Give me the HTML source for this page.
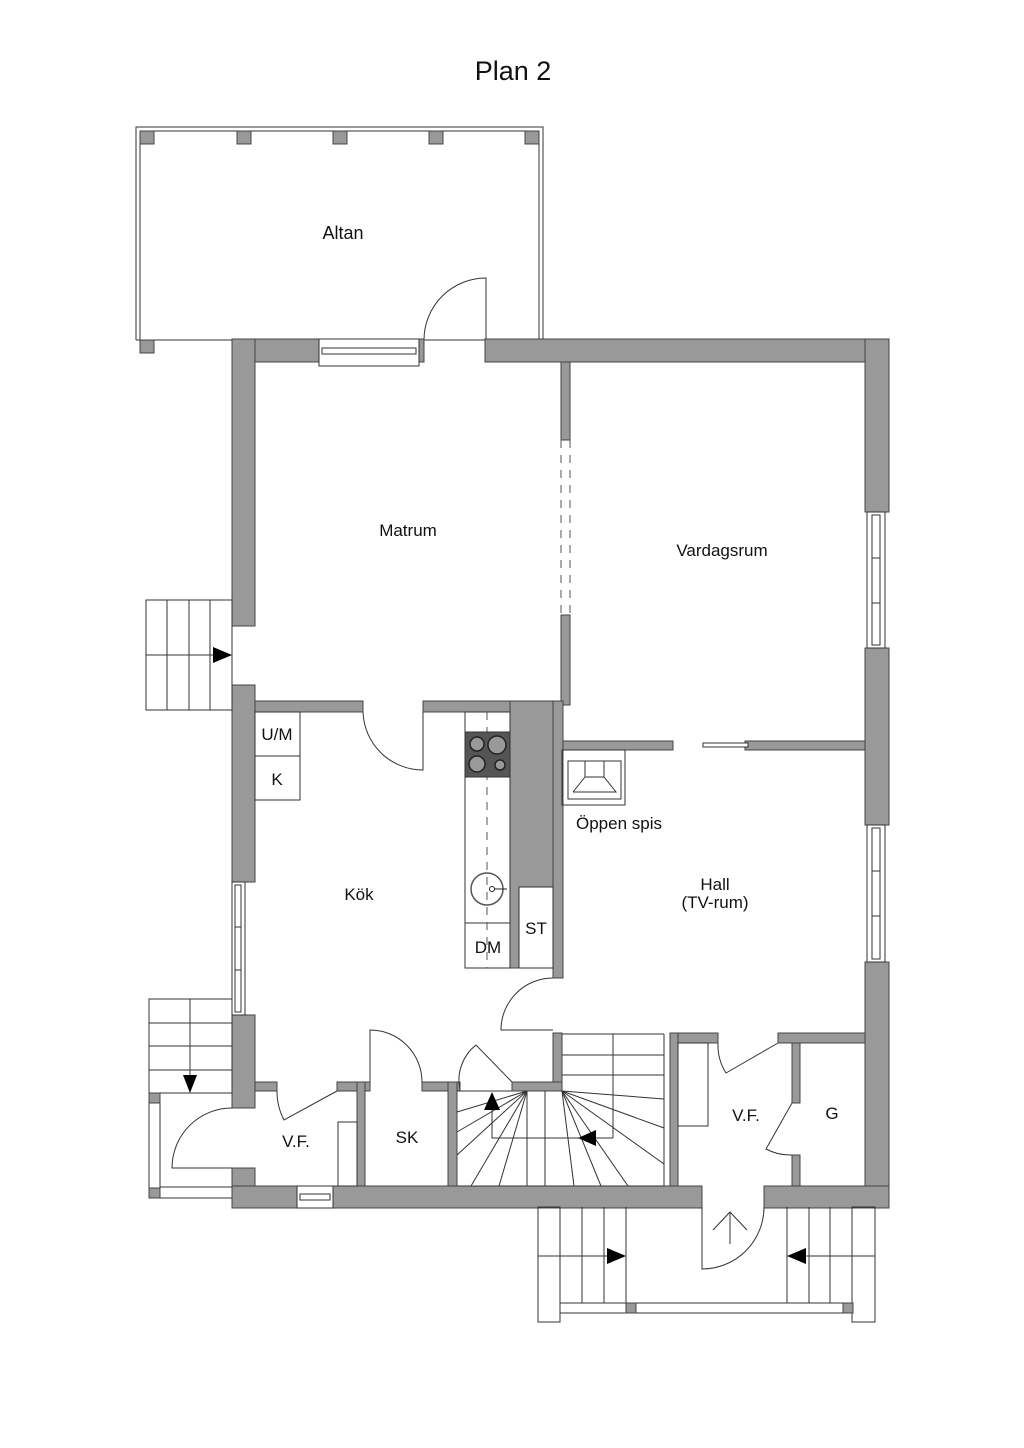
<!DOCTYPE html>
<html><head><meta charset="utf-8"><style>
html,body{margin:0;padding:0;background:#fff}
svg{display:block}
text{font-family:"Liberation Sans",sans-serif;fill:#111}
</style></head><body>
<svg width="1024" height="1448" viewBox="0 0 1024 1448" xmlns="http://www.w3.org/2000/svg">
<text x="513" y="80" font-size="27" text-anchor="middle">Plan 2</text>

<!-- Altan -->
<g fill="none" stroke="#333" stroke-width="1">
<polyline points="136,340 136,127 543,127 543,340"/>
<polyline points="140,340 140,131 539,131 539,340"/>
<line x1="136" y1="340" x2="543" y2="340"/>
</g>
<g fill="#999" stroke="#444" stroke-width="1">
<rect x="140" y="131" width="14" height="13"/>
<rect x="237" y="131" width="14" height="13"/>
<rect x="333" y="131" width="14" height="13"/>
<rect x="429" y="131" width="14" height="13"/>
<rect x="525" y="131" width="14" height="13"/>
<rect x="140" y="340" width="14" height="13"/>
</g>
<text x="343" y="239" font-size="18" text-anchor="middle">Altan</text>
<path d="M424,340 A62,62 0 0 1 486,278 L486,340" fill="none" stroke="#333"/>

<!-- Walls -->
<g fill="#999" stroke="#444" stroke-width="1">
<!-- top wall -->
<rect x="232" y="339" width="87" height="23"/>
<rect x="485" y="339" width="404" height="23"/>
<rect x="419" y="339" width="5" height="23"/>
<!-- left wall -->
<rect x="232" y="339" width="23" height="287"/>
<rect x="232" y="685" width="23" height="197"/>
<rect x="232" y="1015" width="23" height="93"/>
<rect x="232" y="1168" width="23" height="40"/>
<!-- right wall -->
<rect x="865" y="339" width="24" height="173"/>
<rect x="865" y="648" width="24" height="177"/>
<rect x="865" y="962" width="24" height="246"/>
<!-- bottom wall -->
<rect x="232" y="1186" width="65" height="22"/>
<rect x="333" y="1186" width="369" height="22"/>
<rect x="764" y="1186" width="125" height="22"/>
<!-- matrum/vardagsrum partition -->
<rect x="561" y="362" width="9" height="78"/>
<rect x="561" y="615" width="9" height="90"/>
<!-- matrum bottom wall -->
<rect x="255" y="701" width="108" height="11"/>
<rect x="423" y="701" width="140" height="11"/>
<!-- kitchen column -->
<rect x="510" y="701" width="53" height="267"/>
<rect x="553" y="701" width="10" height="277"/>
<!-- hall/vardagsrum wall -->
<rect x="563" y="741" width="110" height="9"/>
<rect x="745" y="741" width="120" height="9"/>
<!-- hall bottom walls -->
<rect x="670" y="1033" width="48" height="10"/>
<rect x="778" y="1033" width="87" height="10"/>
<rect x="670" y="1033" width="8" height="153"/>
<rect x="792" y="1043" width="8" height="60"/>
<rect x="792" y="1155" width="8" height="31"/>
<!-- stair walls -->
<rect x="553" y="1033" width="9" height="58"/>
<rect x="512" y="1082" width="50" height="9"/>
<!-- lower interior walls -->
<rect x="255" y="1082" width="22" height="9"/>
<rect x="337" y="1082" width="33" height="9"/>
<rect x="422" y="1082" width="38" height="9"/>
<rect x="357" y="1082" width="8" height="104"/>
<rect x="448" y="1082" width="9" height="104"/>
</g>

<!-- top window -->
<g fill="#fff" stroke="#333" stroke-width="1">
<rect x="319" y="339" width="100" height="27"/>
<rect x="322" y="348" width="94" height="6"/>
<!-- right windows -->
<rect x="867" y="512" width="18" height="136"/>
<rect x="872" y="515" width="8" height="130"/>
<rect x="867" y="825" width="18" height="137"/>
<rect x="872" y="828" width="8" height="131"/>
<!-- left window -->
<rect x="232" y="882" width="13" height="133"/>
<rect x="235" y="885" width="6" height="127"/>
<!-- bottom window -->
<rect x="297" y="1186" width="36" height="22"/>
<rect x="300" y="1194" width="30" height="6"/>
</g>
<g stroke="#333" stroke-width="1">
<line x1="872" y1="558" x2="880" y2="558"/><line x1="872" y1="603" x2="880" y2="603"/>
<line x1="872" y1="871" x2="880" y2="871"/><line x1="872" y1="916" x2="880" y2="916"/>
<line x1="235" y1="927" x2="241" y2="927"/><line x1="235" y1="970" x2="241" y2="970"/>
</g>
<!-- dashed opening -->
<g stroke="#555" stroke-dasharray="8,7" stroke-width="1">
<line x1="561" y1="440" x2="561" y2="615"/><line x1="570" y1="440" x2="570" y2="615"/>
</g>

<!-- sliding door -->
<rect x="703" y="743" width="45" height="4" fill="#fff" stroke="#333"/>

<!-- fireplace -->
<g fill="none" stroke="#333" stroke-width="1">
<rect x="562" y="750" width="63" height="55"/>
<rect x="568" y="761" width="53" height="38"/>
<rect x="585" y="761" width="19" height="16"/>
<polyline points="573,792 585,777 604,777 616,792 573,792"/>
</g>
<text x="619" y="829" font-size="17" text-anchor="middle">Öppen spis</text>

<!-- doors -->
<g fill="none" stroke="#333" stroke-width="1">
<path d="M363,712 A60,60 0 0 0 423,770 L423,712"/>
<path d="M553,978 A52,52 0 0 0 501,1030 L553,1030"/>
<path d="M370,1082 L370,1030 A52,52 0 0 1 422,1082"/>
<path d="M460,1090 A45,45 0 0 1 476,1045 L512,1082"/>
<path d="M277,1091 A62,62 0 0 0 284,1120 L337,1091"/>
<path d="M718,1043 A52,52 0 0 0 726,1073 L778,1043"/>
<path d="M792,1155 A52,52 0 0 1 766,1149 L792,1103"/>
<path d="M702,1207 L702,1269 A62,62 0 0 0 764,1207"/>
<path d="M232,1168 L172,1168 A60,60 0 0 1 232,1108"/>
<line x1="730" y1="1244" x2="730" y2="1212"/>
<polyline points="713,1230 730,1212 747,1230"/>
</g>

<!-- kitchen fittings -->
<g fill="none" stroke="#333" stroke-width="1">
<rect x="255" y="712" width="45" height="44" fill="#fff"/>
<rect x="255" y="756" width="45" height="44" fill="#fff"/>
<rect x="465" y="712" width="45" height="256" fill="#fff"/>
<line x1="465" y1="923" x2="510" y2="923"/>
<rect x="519" y="887" width="34" height="81" fill="#fff"/>
<rect x="594" y="1123" width="18" height="0"/>
<rect x="338" y="1122" width="19" height="64" fill="#fff"/>
<rect x="678" y="1043" width="30" height="83" fill="#fff"/>
</g>
<line x1="487" y1="712" x2="487" y2="968" stroke="#555" stroke-dasharray="8,7"/>
<rect x="465" y="732" width="45" height="45" fill="#555" stroke="#333"/>
<g fill="#999" stroke="#222" stroke-width="1.5">
<circle cx="477" cy="744" r="7"/><circle cx="497" cy="745" r="9"/>
<circle cx="477" cy="764" r="8"/><circle cx="500" cy="765" r="5"/>
</g>
<circle cx="487" cy="889" r="16" fill="none" stroke="#555" stroke-width="1.5"/>
<circle cx="492" cy="889" r="2.5" fill="none" stroke="#222"/>
<line x1="494" y1="889" x2="507" y2="889" stroke="#222"/>
<text x="277" y="740" font-size="17" text-anchor="middle">U/M</text>
<text x="277" y="785" font-size="17" text-anchor="middle">K</text>
<text x="536" y="934" font-size="17" text-anchor="middle">ST</text>
<text x="488" y="953" font-size="17" text-anchor="middle">DM</text>

<!-- room labels -->
<text x="408" y="536" font-size="17" text-anchor="middle">Matrum</text>
<text x="722" y="556" font-size="17" text-anchor="middle">Vardagsrum</text>
<text x="359" y="900" font-size="17" text-anchor="middle">Kök</text>
<text x="715" y="890" font-size="17" text-anchor="middle">Hall</text>
<text x="715" y="908" font-size="17" text-anchor="middle">(TV-rum)</text>
<text x="296" y="1147" font-size="17" text-anchor="middle">V.F.</text>
<text x="407" y="1143" font-size="17" text-anchor="middle">SK</text>
<text x="746" y="1121" font-size="17" text-anchor="middle">V.F.</text>
<text x="832" y="1119" font-size="17" text-anchor="middle">G</text>

<!-- left top stairs -->
<g fill="none" stroke="#333" stroke-width="1">
<rect x="146" y="600" width="86" height="110"/>
<line x1="167" y1="600" x2="167" y2="710"/><line x1="189" y1="600" x2="189" y2="710"/><line x1="210" y1="600" x2="210" y2="710"/>
<line x1="146" y1="655" x2="215" y2="655"/>
<!-- bottom-left stairs -->
<rect x="149" y="999" width="83" height="94"/>
<line x1="149" y1="1023" x2="232" y2="1023"/><line x1="149" y1="1046" x2="232" y2="1046"/><line x1="149" y1="1070" x2="232" y2="1070"/>
<line x1="190" y1="999" x2="190" y2="1078"/>
<polyline points="149,1093 149,1198 232,1198"/>
<line x1="160" y1="1093" x2="160" y2="1198"/>
<line x1="160" y1="1187" x2="232" y2="1187"/>
<!-- bottom stairs -->
<rect x="538" y="1207" width="22" height="115"/>
<line x1="582" y1="1207" x2="582" y2="1303"/><line x1="604" y1="1207" x2="604" y2="1303"/><line x1="626" y1="1207" x2="626" y2="1303"/>
<line x1="538" y1="1256" x2="610" y2="1256"/>
<rect x="852" y="1207" width="23" height="115"/>
<line x1="787" y1="1207" x2="787" y2="1303"/><line x1="809" y1="1207" x2="809" y2="1303"/><line x1="830" y1="1207" x2="830" y2="1303"/>
<line x1="803" y1="1256" x2="875" y2="1256"/>
<rect x="560" y="1303" width="292" height="10"/>
<!-- inner stair -->
<line x1="562" y1="1034" x2="664" y2="1034"/>
<line x1="562" y1="1055" x2="664" y2="1055"/><line x1="562" y1="1075" x2="664" y2="1075"/>
<line x1="613" y1="1034" x2="613" y2="1138"/>
<line x1="457" y1="1091" x2="512" y2="1091"/>
<line x1="457" y1="1186" x2="664" y2="1186"/>
<line x1="664" y1="1034" x2="664" y2="1186"/>
<line x1="527" y1="1091" x2="457" y2="1112"/><line x1="527" y1="1091" x2="457" y2="1132"/>
<line x1="527" y1="1091" x2="457" y2="1155"/><line x1="527" y1="1091" x2="471" y2="1186"/>
<line x1="527" y1="1091" x2="499" y2="1186"/><line x1="527" y1="1091" x2="527" y2="1186"/>
<line x1="545" y1="1091" x2="545" y2="1186"/>
<line x1="562" y1="1091" x2="574" y2="1186"/><line x1="562" y1="1091" x2="601" y2="1186"/>
<line x1="562" y1="1091" x2="628" y2="1186"/><line x1="562" y1="1091" x2="664" y2="1164"/>
<line x1="562" y1="1091" x2="664" y2="1128"/><line x1="562" y1="1091" x2="664" y2="1099"/>
<polyline points="492,1108 492,1138 613,1138"/>
</g>
<g fill="#999" stroke="#444">
<rect x="149" y="1093" width="11" height="10"/><rect x="149" y="1188" width="11" height="10"/>
<rect x="626" y="1303" width="10" height="10"/><rect x="843" y="1303" width="10" height="10"/>
</g>
<!-- arrowheads -->
<g fill="#000">
<polygon points="213,647 213,663 232,655"/>
<polygon points="183,1075 197,1075 190,1093"/>
<polygon points="484,1110 500,1110 492,1092"/>
<polygon points="596,1130 596,1146 578,1138"/>
<polygon points="607,1248 607,1264 626,1256"/>
<polygon points="806,1248 806,1264 787,1256"/>
</g>
</svg>
</body></html>
